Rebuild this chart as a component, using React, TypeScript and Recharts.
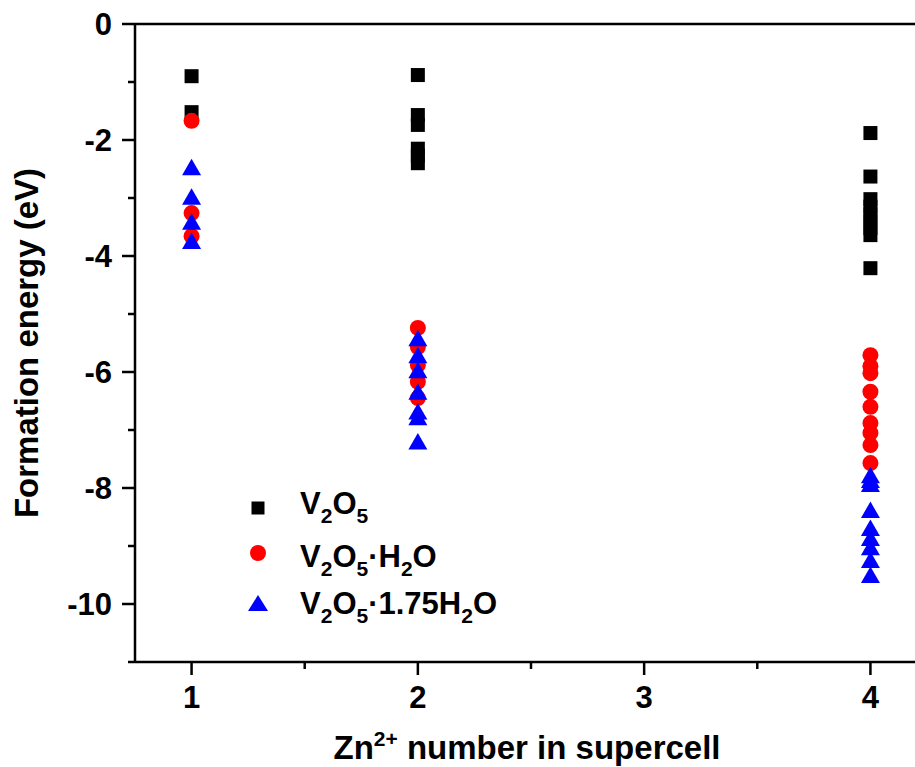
import React from 'react';
import { ScatterChart, Scatter, XAxis, YAxis, ReferenceLine, Legend } from 'recharts';

// ---- data ----
const ZN_COUNTS = [1, 2, 4];
const SERIES_NAMES = ['V2O5', 'V2O5·H2O', 'V2O5·1.75H2O'];

const V2O5_ZN1 = [-0.9, -1.52];
const V2O5_ZN2 = [-0.88, -1.57, -1.74, -2.15, -2.27, -2.4];
const V2O5_ZN4 = [-1.88, -2.63, -3.02, -3.15, -3.28, -3.4, -3.52, -3.64, -4.21];

const H2O_ZN1 = [-1.67, -3.26, -3.66];
const H2O_ZN2 = [-5.24, -5.57, -5.88, -6.17, -6.45];
const H2O_ZN4 = [-5.71, -5.9, -6.02, -6.34, -6.6, -6.88, -7.05, -7.26, -7.57];

const H175_ZN1 = [-2.47, -2.98, -3.41, -3.74];
const H175_ZN2 = [-5.42, -5.71, -5.97, -6.34, -6.68, -6.78, -7.2];
const H175_ZN4 = [-7.78, -7.86, -7.93, -8.38, -8.69, -8.86, -9.02, -9.24, -9.5];

const X_TICKS = [1, 1.5, 2, 2.5, 3, 3.5, 4];
const Y_TICKS = [-11, -10, -9, -8, -7, -6, -5, -4, -3, -2, -1, 0];
const X_TITLE = ['Zn', '2+', ' number in supercell'];
const Y_TITLE = 'Formation energy (eV)';

const toPoints = (groups: number[][]) =>
  groups.flatMap((vals, i) => vals.map((y) => ({ x: ZN_COUNTS[i], y })));

const v2o5Data = toPoints([V2O5_ZN1, V2O5_ZN2, V2O5_ZN4]);
const h2oData = toPoints([H2O_ZN1, H2O_ZN2, H2O_ZN4]);
const h175Data = toPoints([H175_ZN1, H175_ZN2, H175_ZN4]);

// ---- styling ----
const FONT = '"Liberation Sans", Arial, Helvetica, sans-serif';
const BLACK = '#000000';
const RED = '#ff0000';
const BLUE = '#0000ff';
const AXIS_W = 2.5;

const SquareShape = (p: any) => (
  <rect x={p.cx - 7} y={p.cy - 7} width={14} height={14} fill={BLACK} />
);
const CircleShape = (p: any) => <circle cx={p.cx} cy={p.cy} r={8} fill={RED} />;
const TriangleShape = (p: any) => (
  <polygon
    points={`${p.cx},${p.cy - 8.5} ${p.cx - 9.5},${p.cy + 8} ${p.cx + 9.5},${p.cy + 8}`}
    fill={BLUE}
  />
);

const XTick = (props: any) => {
  const { x, y, payload } = props;
  const v = payload.value;
  const major = Number.isInteger(v);
  return (
    <g>
      <line x1={x} x2={x} y1={y} y2={y + (major ? 13 : 7)} stroke={BLACK} strokeWidth={AXIS_W} />
      {major && (
        <text x={x} y={y + 46} textAnchor="middle" fontFamily={FONT} fontWeight="bold" fontSize={31} fill={BLACK}>
          {v}
        </text>
      )}
    </g>
  );
};

const YTick = (props: any) => {
  const { x, y, payload } = props;
  const v = payload.value;
  const major = v % 2 === 0;
  return (
    <g>
      <line x1={x - (major ? 13 : 7)} x2={x} y1={y} y2={y} stroke={BLACK} strokeWidth={AXIS_W} />
      {major && (
        <text x={x - 23} y={y} dy="0.36em" textAnchor="end" fontFamily={FONT} fontWeight="bold" fontSize={31} fill={BLACK}>
          {v}
        </text>
      )}
    </g>
  );
};

// subscript digits that directly follow a letter (chemical formula)
const Formula = ({ name, x, y }: { name: string; x: number; y: number }) => {
  const parts: { t: string; sub: boolean }[] = [];
  for (let i = 0; i < name.length; i++) {
    const c = name[i];
    const sub = /[0-9]/.test(c) && i > 0 && /[A-Za-z]/.test(name[i - 1]);
    const last = parts[parts.length - 1];
    if (last && last.sub === sub && !sub) last.t += c;
    else parts.push({ t: c, sub });
  }
  let shifted = false;
  return (
    <text x={x} y={y} fontFamily={FONT} fontWeight="bold" fontSize={31} fill={BLACK}>
      {parts.map((p, i) => {
        let dy = 0;
        if (p.sub && !shifted) { dy = 9; shifted = true; }
        else if (!p.sub && shifted) { dy = -9; shifted = false; }
        return (
          <tspan key={i} dy={dy} fontSize={p.sub ? 21 : 31}>
            {p.t}
          </tspan>
        );
      })}
    </text>
  );
};

const LEGEND_MARKERS = [
  (cx: number, cy: number) => <rect x={cx - 6.5} y={cy - 6.5} width={13} height={13} fill={BLACK} />,
  (cx: number, cy: number) => <circle cx={cx} cy={cy} r={8} fill={RED} />,
  (cx: number, cy: number) => (
    <polygon points={`${cx},${cy - 8} ${cx - 10},${cy + 8} ${cx + 10},${cy + 8}`} fill={BLUE} />
  ),
];

const renderLegend = () => (
  <svg width={320} height={160} style={{ overflow: 'visible', display: 'block' }}>
    {SERIES_NAMES.map((name, i) => {
      const rowY = [28, 73, 123][i];
      const baseY = [34, 87, 134][i];
      return (
        <g key={name}>
          {LEGEND_MARKERS[i](18, rowY)}
          <Formula name={name} x={60} y={baseY} />
        </g>
      );
    })}
  </svg>
);

export default function App() {
  return (
    <div
      style={{
        position: 'fixed',
        left: 0,
        top: 0,
        width: 915,
        height: 767,
        overflow: 'hidden',
        background: '#ffffff',
      }}
    >
      <ScatterChart width={940} height={767} margin={{ top: 24, right: 13, bottom: 0, left: 0 }}>
        <XAxis
          type="number"
          dataKey="x"
          domain={[0.75, 4.25]}
          ticks={X_TICKS}
          interval={0}
          allowDataOverflow
          height={105}
          tickSize={0}
          tickMargin={0}
          tickLine={false}
          axisLine={{ stroke: BLACK, strokeWidth: AXIS_W }}
          tick={<XTick />}
        />
        <YAxis
          type="number"
          dataKey="y"
          domain={[-11, 0]}
          ticks={Y_TICKS}
          interval={0}
          allowDataOverflow
          width={135}
          tickSize={0}
          tickMargin={0}
          tickLine={false}
          axisLine={{ stroke: BLACK, strokeWidth: AXIS_W }}
          tick={<YTick />}
        />
        <ReferenceLine y={0} stroke={BLACK} strokeWidth={AXIS_W} />
        <Scatter name={SERIES_NAMES[0]} data={v2o5Data} shape={SquareShape} isAnimationActive={false} />
        <Scatter name={SERIES_NAMES[1]} data={h2oData} shape={CircleShape} isAnimationActive={false} />
        <Scatter name={SERIES_NAMES[2]} data={h175Data} shape={TriangleShape} isAnimationActive={false} />
        <Legend
          layout="vertical"
          align="center"
          verticalAlign="middle"
          content={renderLegend}
          wrapperStyle={{ position: 'absolute', left: 240, top: 480, width: 320, height: 160 }}
        />
      </ScatterChart>
      <svg
        width={915}
        height={767}
        style={{ position: 'absolute', left: 0, top: 0, pointerEvents: 'none' }}
      >
        <text
          x={38}
          y={343}
          transform="rotate(-90, 38, 343)"
          textAnchor="middle"
          fontFamily={FONT}
          fontWeight="bold"
          fontSize={33}
          fill={BLACK}
        >
          {Y_TITLE}
        </text>
        <text x={527} y={759} textAnchor="middle" fontFamily={FONT} fontWeight="bold" fontSize={33} fill={BLACK}>
          <tspan>{X_TITLE[0]}</tspan>
          <tspan dy={-13} fontSize={21}>{X_TITLE[1]}</tspan>
          <tspan dy={13}>{X_TITLE[2]}</tspan>
        </text>
      </svg>
    </div>
  );
}
